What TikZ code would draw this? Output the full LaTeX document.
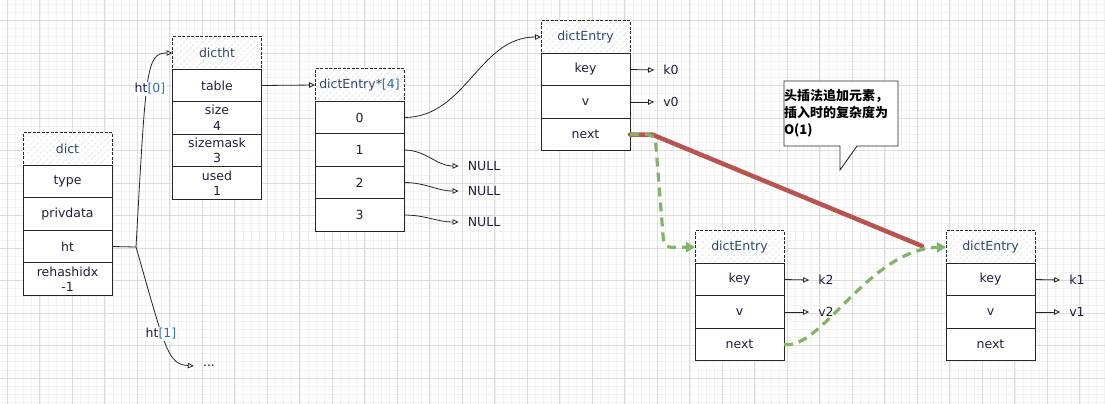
\documentclass[tikz,border=0pt]{standalone}
\usepackage{fontspec}
\setmainfont{DejaVu Sans}
\newfontfamily\cjk{Noto Sans CJK SC}
\usetikzlibrary{arrows.meta, positioning, patterns.meta}
\definecolor{ink}{HTML}{1E1E3C}
\definecolor{hdrink}{HTML}{34466E}
\definecolor{idxblue}{HTML}{2E6DB4}
\definecolor{gridmajor}{HTML}{DCDCDC}
\definecolor{gridminor}{HTML}{F1F1F1}
\definecolor{nextred}{HTML}{B85450}
\definecolor{insgreen}{HTML}{82B366}

\begin{document}
\begin{tikzpicture}[x=1pt, y=-1pt,
    cell/.style    = {rectangle, draw=black!85, line width=0.9pt, fill=white,
                      minimum width=89pt, minimum height=32.5pt, inner sep=0pt,
                      outer sep=0pt, align=center, text=ink,
                      font=\fontsize{12.5}{15.5}\selectfont},
    hdr/.style     = {cell, dash pattern=on 3pt off 1.5pt, preaction={fill=white},
                      pattern={Lines[angle=45,distance=4.5pt,line width=0.5pt]},
                      pattern color=gray!28, text=hdrink},
    arr/.style     = {-{Triangle[open,length=6pt,width=5.5pt]}, line width=0.8pt,
                      draw=black!85},
    lbl/.style     = {text=ink, inner xsep=9pt, inner ysep=1pt,
                      font=\fontsize{12.5}{15}\selectfont},
    tag/.style     = {text=ink, fill=white, inner sep=1pt,
                      font=\fontsize{12.5}{15}\selectfont},
    redline/.style = {draw=nextred, line width=4.5pt, line cap=round},
    gdash/.style   = {draw=insgreen, line width=3.2pt, dash pattern=on 9pt off 6pt,
                      -{Triangle[length=9pt,width=10pt]}},
    bubble/.style  = {draw=black!85, line width=0.9pt, fill=white},
    bubtext/.style = {text=black, inner sep=0pt, text width=114pt, align=left,
                      font=\cjk\bfseries\fontsize{13}{17}\selectfont}
  ]
  \useasboundingbox (0,0) rectangle (1105,404);
  \clip (0,0) rectangle (1105,404);

  % background grid
  \fill[white] (0,0) rectangle (1105,404);
  \foreach \k in {0,...,137} \draw[gridminor, line width=0.6pt] ({-0.825+8.125*\k},0) -- ++(0,404);
  \foreach \k in {0,...,50}  \draw[gridminor, line width=0.6pt] (0,{-3.875+8.125*\k}) -- ++(1105,0);
  \foreach \k in {0,...,33}  \draw[gridmajor, line width=0.8pt] ({7.3+32.5*\k},0) -- ++(0,404);
  \foreach \k in {0,...,12}  \draw[gridmajor, line width=0.8pt] (0,{20.5+32.5*\k}) -- ++(1105,0);

  % dict
  \node[hdr] (dict) at (67.5,149) {dict};
  \node[cell, below=0pt of dict]     (dtype)    {type};
  \node[cell, below=0pt of dtype]    (privdata) {privdata};
  \node[cell, below=0pt of privdata] (ht)       {ht};
  \node[cell, below=0pt of ht]       (rehash)   {rehashidx\\-1};

  % dictht
  \node[hdr] (dictht) at (217,53) {dictht};
  \node[cell, below=0pt of dictht]   (table)    {table};
  \node[cell, below=0pt of table]    (size)     {size\\4};
  \node[cell, below=0pt of size]     (sizemask) {sizemask\\3};
  \node[cell, below=0pt of sizemask] (used)     {used\\1};

  % bucket array
  \node[hdr] (buckets) at (359.5,85) {dictEntry*\textcolor{idxblue}{[4]}};
  \node[cell, below=0pt of buckets] (b0) {0};
  \node[cell, below=0pt of b0]      (b1) {1};
  \node[cell, below=0pt of b1]      (b2) {2};
  \node[cell, below=0pt of b2]      (b3) {3};

  % entries
  \node[hdr] (e0) at (585.5,37) {dictEntry};
  \node[cell, below=0pt of e0]    (e0key)  {key};
  \node[cell, below=0pt of e0key] (e0v)    {v};
  \node[cell, below=0pt of e0v]   (e0next) {next};

  \node[hdr] (e2) at (739.5,247) {dictEntry};
  \node[cell, below=0pt of e2]    (e2key)  {key};
  \node[cell, below=0pt of e2key] (e2v)    {v};
  \node[cell, below=0pt of e2v]   (e2next) {next};

  \node[hdr] (e1) at (990.5,247) {dictEntry};
  \node[cell, below=0pt of e1]    (e1key)  {key};
  \node[cell, below=0pt of e1key] (e1v)    {v};
  \node[cell, below=0pt of e1v]   (e1next) {next};

  % values
  \node[lbl] (k0) at (671,70)  {k0};
  \node[lbl] (v0) at (671,102) {v0};
  \node[lbl] (k2) at (826,280) {k2};
  \node[lbl] (v2) at (826,312) {v2};
  \node[lbl] (k1) at (1077,280) {k1};
  \node[lbl] (v1) at (1077,312) {v1};
  \node[lbl] (null1) at (484,166) {NULL};
  \node[lbl] (null2) at (484,191) {NULL};
  \node[lbl] (null3) at (484,222) {NULL};
  \node[lbl] (more)  at (209,366) {...};

  % pointers
  \coordinate (htfork) at (136,247);
  \draw[arr] (ht.east) -- (htfork) .. controls (146,70) and (146,53) .. (dictht.west);
  \draw[arr] (htfork) .. controls (166,352) and (168,364) .. (more.west);
  \node[tag] (ht0) at (150,89)  {ht\textcolor{idxblue}{[0]}};
  \node[tag] (ht1) at (161,334) {ht\textcolor{idxblue}{[1]}};

  \draw[arr] (table.east) -- (buckets.west);
  \draw[arr] (b0.east) to[out=0,in=180] (e0.west);
  \draw[arr] (b1.east) to[out=0,in=180] (null1.west);
  \draw[arr] (b2.east) to[out=0,in=180] (null2.west);
  \draw[arr] (b3.east) to[out=0,in=180] (null3.west);

  \draw[arr] (e0key.east) -- (k0.west);
  \draw[arr] (e0v.east)   -- (v0.west);
  \draw[arr] (e2key.east) -- (k2.west);
  \draw[arr] (e2v.east)   -- (v2.west);
  \draw[arr] (e1key.east) -- (k1.west);
  \draw[arr] (e1v.east)   -- (v1.west);

  % old link, then head insertion
  \coordinate (redend) at (922,246);
  \draw[redline] (e0next.east) -- ++(22,0) -- (redend);
  \draw[gdash, rounded corners=8pt] (e0next.east) -- ++(25,0) -- ++(9,113) -- (e2.west);
  \draw[gdash] (e2next.east) .. controls (822,350) and (868,250) .. (e1.west);

  % note
  \filldraw[bubble] (784,81) -- (898,81) -- (898,146) -- (857,146) -- (840,170)
    -- (840,146) -- (784,146) -- cycle;
  \node[bubtext] (note) at (841,113.5) {头插法追加元素，\\插入时的复杂度为\\O(1)};
\end{tikzpicture}
\end{document}
